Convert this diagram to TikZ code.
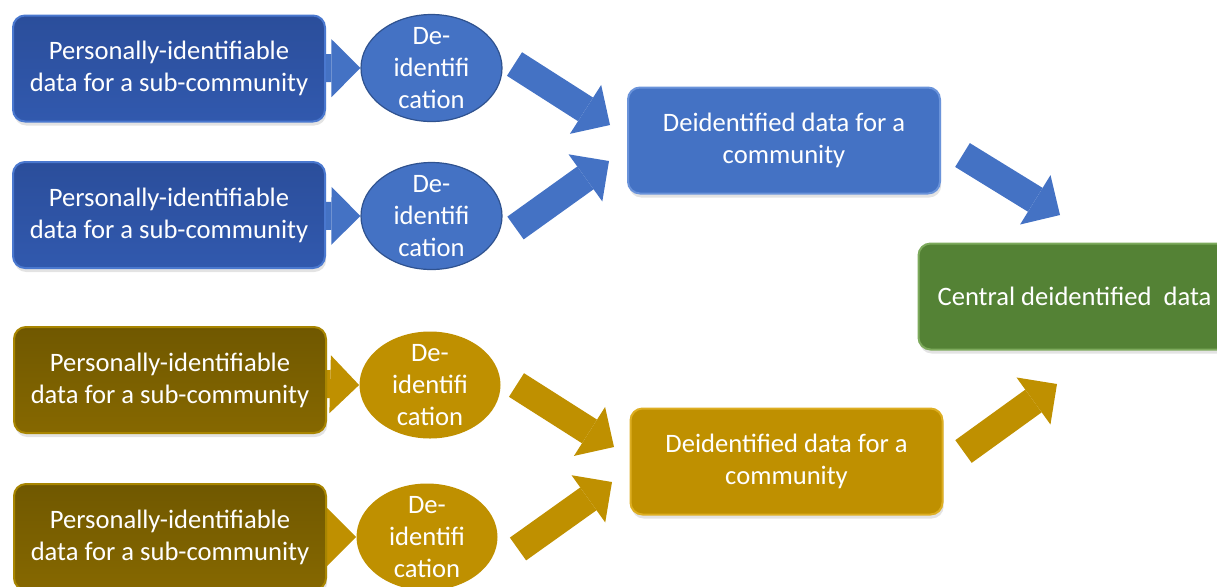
\documentclass[tikz,border=0pt]{standalone}
\usepackage{fontspec}
\setmainfont{Carlito}
\usetikzlibrary{shapes.geometric,arrows.meta,shadows,backgrounds}

\definecolor{subblueT}{HTML}{2B4E9B}
\definecolor{subblueB}{HTML}{3159AE}
\definecolor{subblueR}{HTML}{4A78CF}
\definecolor{subgoldT}{HTML}{705800}
\definecolor{subgoldB}{HTML}{866800}
\definecolor{subgoldR}{HTML}{A88500}
\definecolor{deidblue}{HTML}{4472C4}
\definecolor{deidblueR}{HTML}{2F528F}
\definecolor{deidgold}{HTML}{BF9000}
\definecolor{commblueR}{HTML}{6A93DA}
\definecolor{commgoldR}{HTML}{DDAE22}
\definecolor{centralgreen}{HTML}{548235}
\definecolor{centralgreenR}{HTML}{7DAA5C}

\begin{document}
\begin{tikzpicture}[x=0.5pt, y=-0.5pt,
    font=\fontsize{13.3}{16}\selectfont,
    box/.style={rounded corners=6pt, minimum width=156pt, minimum height=53pt,
        align=center, text=white, line width=1pt,
        drop shadow={opacity=0.22, shadow xshift=0.6pt, shadow yshift=-2pt}},
    subblue/.style={box, top color=subblueT, bottom color=subblueB, draw=subblueR},
    subgold/.style={box, top color=subgoldT, bottom color=subgoldB, draw=subgoldR},
    commblue/.style={box, fill=deidblue, draw=commblueR},
    commgold/.style={box, fill=deidgold, draw=commgoldR},
    central/.style={box, fill=centralgreen, draw=centralgreenR},
    deid/.style={ellipse, minimum width=70.5pt, minimum height=53.5pt, inner sep=0pt},
    deidtext/.style={align=center, text=white, inner sep=0pt},
    fat/.style={line width=14pt, -{Triangle[length=14.5pt, width=29pt, line width=0pt]}}
  ]
    \useasboundingbox (0, 0) rectangle (1217, 586);

    % Sub-community data
    \node[subblue] (sub1) at (169, 68.5) {Personally-identifiable\\data for a sub-community};
    \node[subblue] (sub2) at (169, 215) {Personally-identifiable\\data for a sub-community};
    \node[subgold] (sub3) at (170, 380) {Personally-identifiable\\data for a sub-community};
    \node[subgold] (sub4) at (170, 537) {Personally-identifiable\\data for a sub-community};

    % De-identification steps
    \node[deid, fill=deidblue, draw=deidblueR, line width=0.6pt,
        label={[deidtext]center:{De-\\identifi\\cation}}] (deid1) at (431.5, 68) {};
    \node[deid, fill=deidblue, draw=deidblueR, line width=0.6pt,
        label={[deidtext]center:{De-\\identifi\\cation}}] (deid2) at (431.5, 216) {};
    \node[deid, fill=deidgold,
        label={[deidtext]center:{De-\\identifi\\cation}}] (deid3) at (430, 385) {};
    \node[deid, fill=deidgold,
        label={[deidtext]center:{De-\\identifi\\cation}}] (deid4) at (427, 537) {};

    % Community data
    \node[commblue] (comm1) at (784, 140.5) {Deidentified data for a\\community};
    \node[commgold] (comm2) at (786.5, 461.5) {Deidentified data for a\\community};

    % Central data
    \node[central] (central) at (1074.5, 296.5) {Central deidentified~~data};

    % Small arrows (behind the boxes)
    \begin{scope}[on background layer]
        \draw[fat, deidblue] (sub1.center) -- (deid1.west);
        \draw[fat, deidblue] (sub2.center) -- (deid2.west);
        \draw[fat, deidgold] (sub3.center) -- (deid3.west);
        \draw[fat, deidgold] (sub4.center) -- (deid4.west);
    \end{scope}

    % Big arrows
    \coordinate (a1s) at (514.5, 64);   \coordinate (a1e) at (610, 125);
    \coordinate (a2s) at (515.5, 228);  \coordinate (a2e) at (609, 161);
    \coordinate (a3s) at (962.5, 155);  \coordinate (a3e) at (1060, 215);
    \coordinate (a4s) at (516.5, 385);  \coordinate (a4e) at (614, 447);
    \coordinate (a5s) at (518, 549);    \coordinate (a5e) at (612, 482);
    \coordinate (a6s) at (963.5, 451.5); \coordinate (a6e) at (1057, 384);
    \draw[fat, deidblue] (a1s) -- (a1e);
    \draw[fat, deidblue] (a2s) -- (a2e);
    \draw[fat, deidblue] (a3s) -- (a3e);
    \draw[fat, deidgold] (a4s) -- (a4e);
    \draw[fat, deidgold] (a5s) -- (a5e);
    \draw[fat, deidgold] (a6s) -- (a6e);
\end{tikzpicture}
\end{document}
